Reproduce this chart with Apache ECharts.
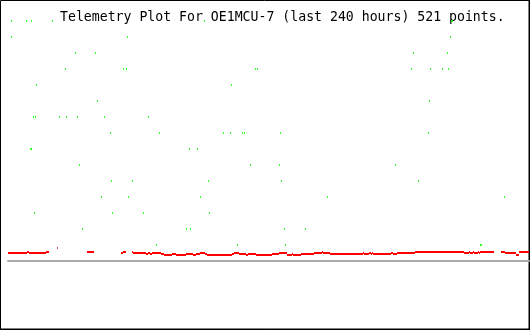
<!DOCTYPE html>
<html><head><meta charset="utf-8">
<script src="https://cdn.jsdelivr.net/npm/echarts@6/dist/echarts.min.js"></script>
<style>html,body{margin:0;padding:0;background:#fff}#c{width:530px;height:330px}</style>
</head><body><div id="c"></div>
<script>
// Sample index (0..521) across 240 hours
const titleText = 'Telemetry Plot For OE1MCU-7 (last 240 hours) 521 points.';
// Green telemetry channel: sample indices and values
const greenX = [3,18,23,44,196,443,444, 3,119,442, 67,87,405,439, 57,115,118,247,249,403,422,434,440,
  28,223, 89,421, 25,27,51,58,69,96,140, 102,151,215,222,234,236,272,420, 22,23,181,189,
  71,242,271,387, 103,124,200,273,410, 93,120,192,319,496, 26,104,135,201, 74,178,182,276,297,
  148,229,277,472,473];
const greenY = [15,15,15,15,15,15,15, 14,14,14, 13,13,13,13, 12,12,12,12,12,12,12,12,12,
  11,11, 10,10, 9,9,9,9,9,9,9, 8,8,8,8,8,8,8,8, 7,7,7,7,
  6,6,6,6, 5,5,5,5,5, 4,4,4,4,4, 3,3,3,3, 2,2,2,2,2,
  1,1,1,1,1];
// Red telemetry channel: value holds from redX[i] until redX[i+1] (null = missing data)
const redX = [0,19,21,38,41, 79,86, 113,115,118,
  124,125,138,140,142,144,153,156,164,168,178,185,188,192,197,199,224,226,231,238,240,248,264,271,279,284,285,293,306,314,315,322,355,356,361,363,364,365,383,385,389,407,456,461,462,465,466,470,471,472,486,
  493,497,508,511,521];
const redY = [0.5,0.5625,0.5,0.5625,null, 0.5625,null, 0.5,0.5625,null,
  0.5625,0.5,0.4375,0.5,0.4375,0.5,0.4375,0.375,0.4375,0.375,0.4375,0.375,0.4375,0.5,0.4375,0.375,0.4375,0.5,0.4375,0.375,0.4375,0.375,0.4375,0.5,0.375,0.4375,0.375,0.4375,0.5,0.5625,0.5,0.4375,0.5,0.4375,0.5,0.4375,0.5,0.4375,0.5,0.4375,0.5,0.5625,0.5,0.5625,0.5,0.5625,0.5,0.5625,0.5,0.5625,null,
  0.5625,0.5,0.375,0.5625,null];
const redLoneX = [49];
const redLoneY = [0.8125];

const redRuns = [];
for (let i = 0; i < redX.length - 1; i++) {
  if (redY[i] !== null) redRuns.push([redX[i], redX[i+1], redY[i]]);
}

const chart = echarts.init(document.getElementById('c'), null, {renderer:'canvas'});
chart.setOption({
  backgroundColor:'#ffffff',
  animation:false,
  grid:{left:8, top:5, width:521, height:256},
  xAxis:{type:'value', min:0, max:521, show:true,
    axisLine:{show:true, onZero:true, lineStyle:{color:'#aaaaaa', width:2}},
    axisTick:{show:false}, axisLabel:{show:false}, splitLine:{show:false}},
  yAxis:{type:'value', min:0, max:16, show:false, splitLine:{show:false}},
  series:[
    {type:'custom', data: redRuns, encode:{x:[0,1], y:2},
      renderItem:function(params, api){
        const p0 = api.coord([api.value(0), api.value(2)]);
        const p1 = api.coord([api.value(1), api.value(2)]);
        return {type:'rect', shape:{x:p0[0], y:p0[1]-1, width:p1[0]-p0[0], height:2},
          style:{fill:'#ff0000'}};
      }},
    {type:'scatter', symbol:'rect', symbolSize:[1,2], symbolOffset:[0.5,0],
      itemStyle:{color:'#ff0000'}, data: redLoneX.map((x,i)=>[x, redLoneY[i]])},
    {type:'scatter', symbol:'rect', symbolSize:[1,2], symbolOffset:[0.5,0],
      itemStyle:{color:'#00ff00'}, data: greenX.map((x,i)=>[x, greenY[i]])}
  ],
  graphic:[
    {type:'rect', shape:{x:0.5,y:0.5,width:528.5,height:328.5}, style:{fill:null, stroke:'#000', lineWidth:1}, silent:true},
    {type:'line', shape:{x1:529.5,y1:0,x2:529.5,y2:330}, style:{stroke:'#000', lineWidth:1}, silent:true},
    {type:'line', shape:{x1:0,y1:329.5,x2:530,y2:329.5}, style:{stroke:'#000', lineWidth:1}, silent:true},
    {type:'text', x:60, y:11, style:{text:titleText, font:'13.2px "DejaVu Sans Mono"', fill:'#000', textVerticalAlign:'top'}, silent:true}
  ]
});
</script></body></html>
